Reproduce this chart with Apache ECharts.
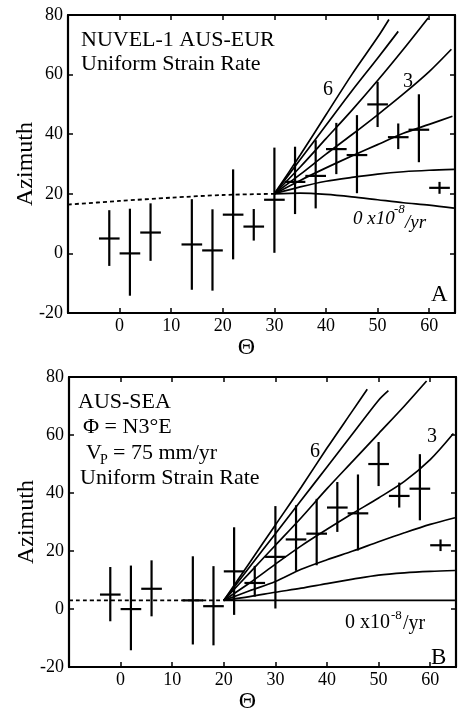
<!DOCTYPE html>
<html>
<head>
<meta charset="utf-8">
<title>Azimuth vs Theta</title>
<script src="https://cdn.jsdelivr.net/npm/echarts@6/dist/echarts.min.js"></script>
<style>
  html, body { margin: 0; padding: 0; background: #fff; }
  #chart { width: 462px; height: 715px; }
</style>
</head>
<body>
<div id="chart"></div>
<script>
// observed azimuths (same in both panels)
var obsTheta   = [-2, 2, 6, 14, 18, 22, 26, 30, 34, 38, 42, 46, 50, 54, 58, 62];
var obsAzimuth = [5, 0, 7, 3, 1, 13, 9, 18, 24, 26, 35, 33, 50, 39, 41.5, 22];
var obsUpper   = [14.5, 15, 16.8, 18.2, 14.8, 28.2, 14.9, 35.5, 35.8, 38, 43.8, 46.4, 57.6, 43.6, 53.4, 24];
var obsLower   = [-4.2, -14.2, -2.5, -12.2, -12.5, -2, 4.3, 0.2, 13.2, 15.1, 26.6, 20.2, 42.4, 35, 30.6, 20];
var thetaHalfBin = 2;

// axis ticks
var thetaTicks = [0, 10, 20, 30, 40, 50, 60];
var azimuthTicks = [-20, 0, 20, 40, 60, 80];

// panel A: NUVEL-1 AUS-EUR, strain rate curves 0..6 x10^-8/yr
var dashedA = [[-10, 16.4], [0, 17.6], [10, 18.7], [20, 19.6], [30, 20]];
var rate0A = [[30, 20], [35, 20.2], [40, 19.8], [45, 19], [50, 18], [55, 17], [60, 16.2], [64.8, 15.2]];
var rate1A = [[30, 20], [35, 22.3], [40, 24.2], [45, 25.5], [50, 26.6], [55, 27.4], [60, 27.9], [64.8, 28.2]];
var rate2A = [[30, 20], [35, 24.5], [40, 28.7], [45, 32.7], [50, 36.5], [55, 40.3], [60, 43.3], [64.5, 46]];
var rate3A = [[30, 20], [35, 26.5], [40, 33.3], [45, 39.8], [50, 46.5], [55, 53.5], [60, 61], [64.3, 68.5]];
var rate4A = [[30, 20], [35, 29], [40, 38.5], [45, 48], [50, 58], [55, 68.5], [59.8, 79]];
var rate5A = [[30, 20], [35, 31.5], [40, 43], [45, 54.5], [50, 65.5], [54, 74.5]];
var rate6A = [[30, 20], [35, 33], [40, 46.5], [45, 60], [50, 72.5], [52.2, 78.5]];

// panel B: AUS-SEA
var dashedB = [[-10, 3], [20, 3]];
var rate0B = [[20, 3], [64.8, 3]];
var rate1B = [[20, 3], [25, 4.3], [30, 5.8], [35, 7.2], [40, 8.8], [45, 10.3], [50, 11.7], [55, 12.5], [60, 13], [64.8, 13.3]];
var rate2B = [[20, 3], [25, 6.3], [30, 9.5], [35, 13.7], [40, 17], [45, 20], [50, 23.2], [55, 26.3], [60, 29.2], [64.8, 31.5]];
var rate3B = [[20, 3], [25, 9], [30, 15.5], [35, 21.8], [40, 27.5], [45, 33], [50, 38.3], [55, 44], [60, 51.5], [64.5, 60.5]];
var rate4B = [[20, 3], [25, 12.5], [30, 22], [35, 31.5], [40, 41.5], [45, 51], [50, 60.5], [55, 70], [59.3, 78.6]];
var rate5B = [[20, 3], [25, 14.5], [30, 26], [35, 37.5], [40, 49], [45, 60.5], [50, 72], [51.9, 75.3]];
var rate6B = [[20, 3], [25, 16], [30, 29], [35, 42], [40, 55.5], [45, 68.5], [47.8, 75.8]];

var serif = '"Liberation Serif", "Times New Roman", serif';
var chart = echarts.init(document.getElementById('chart'));

var obsData = obsTheta.map(function (t, i) {
  return [t, obsAzimuth[i], obsLower[i], obsUpper[i], thetaHalfBin];
});

function renderCross(params, api) {
  var t = api.value(0), a = api.value(1), lo = api.value(2), hi = api.value(3), hw = api.value(4);
  var left = api.coord([t - hw, a]);
  var right = api.coord([t + hw, a]);
  var top = api.coord([t, hi]);
  var bot = api.coord([t, lo]);
  var st = { stroke: '#000', lineWidth: 2.2 };
  return {
    type: 'group',
    children: [
      { type: 'line', shape: { x1: left[0], y1: left[1], x2: right[0], y2: right[1] }, style: st },
      { type: 'line', shape: { x1: top[0], y1: top[1], x2: bot[0], y2: bot[1] }, style: st }
    ]
  };
}

function axisLine() {
  return { show: true, onZero: false, lineStyle: { color: '#000', width: 2.2 } };
}
function axisTick() {
  return { show: true, inside: true, length: 5, lineStyle: { color: '#000', width: 1.5 } };
}

function xAxes(gi) {
  return [{
    type: 'value', gridIndex: gi, position: 'bottom',
    min: -10, max: 65, interval: 10,
    axisLine: axisLine(), axisTick: axisTick(), splitLine: { show: false },
    axisLabel: {
      color: '#000', fontFamily: serif, fontSize: 18, margin: 4,
      formatter: function (v) { return thetaTicks.indexOf(v) >= 0 ? String(v) : ''; }
    },
    name: 'Θ', nameLocation: 'middle', nameGap: 17,
    nameTextStyle: { color: '#000', fontFamily: serif, fontSize: 24, padding: [0, 30, 0, 0] }
  }, {
    type: 'value', gridIndex: gi, position: 'top',
    min: -10, max: 65, interval: 10,
    axisLine: axisLine(), axisTick: axisTick(), splitLine: { show: false },
    axisLabel: { show: false }
  }];
}

function yAxes(gi) {
  return [{
    type: 'value', gridIndex: gi, position: 'left',
    min: -20, max: 80, interval: 20,
    axisLine: axisLine(), axisTick: axisTick(), splitLine: { show: false },
    axisLabel: {
      color: '#000', fontFamily: serif, fontSize: 18, margin: 5,
      formatter: function (v) { return azimuthTicks.indexOf(v) >= 0 ? String(v) : ''; }
    },
    name: 'Azimuth', nameLocation: 'middle', nameGap: 30, nameRotate: 90,
    nameMoveOverlap: false,
    nameTextStyle: { color: '#000', fontFamily: serif, fontSize: 24 }
  }, {
    type: 'value', gridIndex: gi, position: 'right',
    min: -20, max: 80, interval: 20,
    axisLine: axisLine(), axisTick: axisTick(), splitLine: { show: false },
    axisLabel: { show: false }
  }];
}

function curve(data, xi, yi, dashed) {
  return {
    type: 'line', xAxisIndex: xi, yAxisIndex: yi, data: data,
    showSymbol: false, symbol: 'none', smooth: 0.3, silent: true, clip: true,
    lineStyle: { color: '#000', width: dashed ? 1.8 : 1.7, type: dashed ? [4, 3] : 'solid' }
  };
}

function txt(x, y, s, size, style) {
  return {
    type: 'text', x: x, y: y, silent: true,
    style: {
      text: s, fill: '#000',
      font: (style || '') + ' ' + size + 'px ' + serif,
      textVerticalAlign: 'middle', verticalAlign: 'middle'
    }
  };
}

var series = [];
[[rate0A, rate1A, rate2A, rate3A, rate4A, rate5A, rate6A, dashedA],
 [rate0B, rate1B, rate2B, rate3B, rate4B, rate5B, rate6B, dashedB]].forEach(function (set, p) {
  var xi = p * 2, yi = p * 2;
  series.push(curve(set[7], xi, yi, true));
  for (var k = 0; k < 7; k++) series.push(curve(set[k], xi, yi, false));
  series.push({
    type: 'custom', xAxisIndex: xi, yAxisIndex: yi, data: obsData,
    renderItem: renderCross, silent: true, clip: true,
    encode: { x: 0, y: [1, 2, 3] }
  });
});

chart.setOption({
  animation: false,
  backgroundColor: '#fff',
  grid: [
    { left: 68, top: 15, width: 387, height: 298 },
    { left: 69, top: 377, width: 387, height: 299 }
  ],
  xAxis: xAxes(0).concat(xAxes(1)),
  yAxis: yAxes(0).concat(yAxes(1)),
  series: series,
  graphic: [
    // panel A
    txt(81, 40, 'NUVEL-1 AUS-EUR', 22),
    txt(81, 64, 'Uniform Strain Rate', 22),
    txt(323, 90, '6', 20),
    txt(403, 82, '3', 20),
    txt(353, 219, '0 x10', 19, 'italic'),
    txt(394, 210, '-8', 13, 'italic'),
    txt(405, 223, '/yr', 19, 'italic'),
    txt(431, 295, 'A', 23),
    // panel B
    txt(78, 402, 'AUS-SEA', 22),
    txt(83, 427, 'Φ = N3°E', 22),
    txt(86, 453, 'V', 22),
    txt(100, 460, 'P', 14),
    txt(113, 453, '= 75 mm/yr', 22),
    txt(80, 478, 'Uniform Strain Rate', 22),
    txt(310, 452, '6', 20),
    txt(427, 437, '3', 20),
    txt(345, 623, '0 x10', 20),
    txt(391, 616, '-8', 13),
    txt(403, 624, '/yr', 20),
    txt(431, 658, 'B', 23)
  ]
});
</script>
</body>
</html>
